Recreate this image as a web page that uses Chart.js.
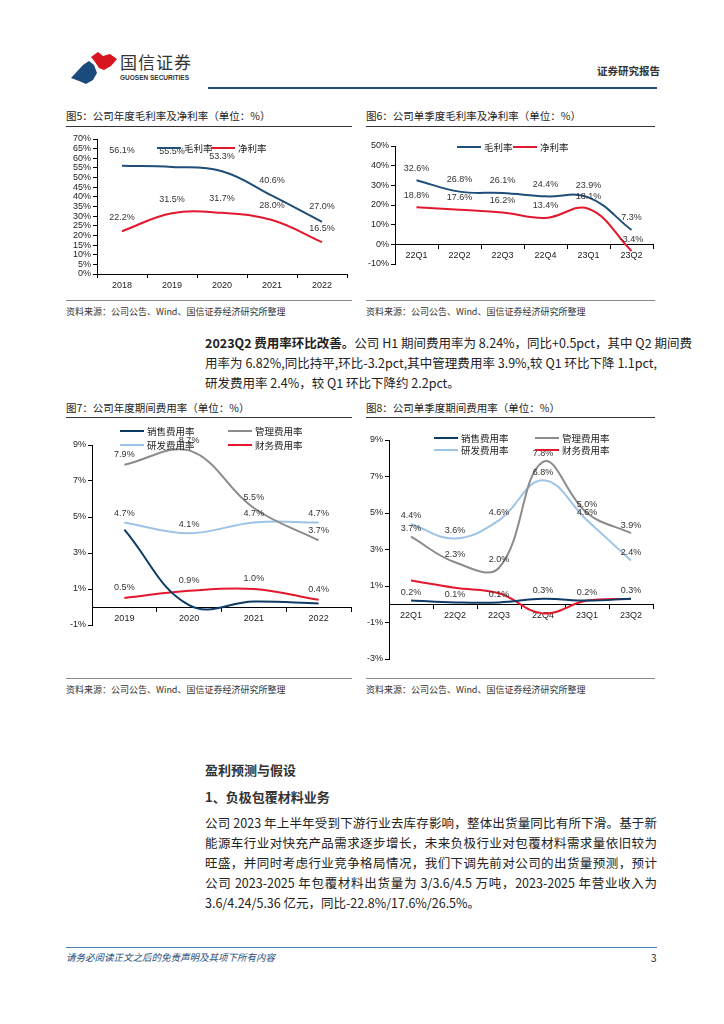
<!DOCTYPE html>
<html>
<head>
<meta charset="utf-8">
<script src="https://cdn.jsdelivr.net/npm/chart.js@4/dist/chart.umd.min.js"></script>
<style>
  body { margin: 0; background: #fff; font-family: "Noto Sans CJK SC", "Noto Sans", sans-serif; color: #222; }
  #page { position: relative; width: 724px; height: 1024px; overflow: hidden; }
  .abs { position: absolute; white-space: nowrap; }
  .rule { position: absolute; height: 1px; background: #333; }
  .title { font-size: 10.5px; color: #222; }
  .src { font-size: 9px; color: #333; }
  .leg { position: absolute; font-size: 9.5px; color: #222; white-space: nowrap; line-height: 12px; }
  .leg i { display: inline-block; width: 24px; height: 2px; vertical-align: middle; margin-right: 3px; margin-top: -2px; }
  .para { position: absolute; left: 205px; width: 452px; font-size: 12.5px; line-height: 20px; color: #222; }
  .para div { text-align: justify; text-align-last: justify; height: 20px; white-space: nowrap; }
  .para div.last { text-align-last: left; }
  canvas { position: absolute; }
</style>
</head>
<body>
<div id="page">
  <!-- header -->
  <svg class="abs" style="left:70px;top:50px" width="50" height="36" viewBox="0 0 50 36">
    <path d="M21 7 L28 2 L33 6 L40 4 L47 9 L41 16 L34 20 L29 18 L25 12 Z" fill="#d7141f"/>
    <path d="M1 28 L13 15 L19 11 L24 15 L27 23 L23 30 L16 34 L9 31 Z" fill="#1b4a7c"/>
  </svg>
  <div class="abs" style="left:120px;top:49px;font-size:17px;letter-spacing:1px;color:#333">国信证券</div>
  <div class="abs" style="left:120px;top:74px;font-size:6.5px;font-weight:bold;color:#333;font-family:'Liberation Sans',sans-serif">GUOSEN SECURITIES</div>
  <div class="abs" style="left:597px;top:63px;font-size:10.5px;font-weight:bold;color:#333">证券研究报告</div>
  <div class="abs" style="left:208px;top:87px;width:449px;height:2px;background:#1f4e79"></div>

  <!-- chart titles -->
  <div class="abs title" style="left:66px;top:108px">图5：公司年度毛利率及净利率（单位：%）</div>
  <div class="rule" style="left:66px;top:126px;width:286px"></div>
  <div class="abs title" style="left:366px;top:108px">图6：公司单季度毛利率及净利率（单位：%）</div>
  <div class="rule" style="left:366px;top:126px;width:289px"></div>

  <canvas id="c5" width="300" height="170" style="left:60px;top:130px"></canvas>
  <canvas id="c6" width="300" height="145" style="left:362px;top:130px"></canvas>

  <div class="leg" style="left:157px;top:142px"><i style="background:#1f4e79"></i>毛利率</div>
  <div class="leg" style="left:211px;top:142px"><i style="background:#e3182d"></i>净利率</div>
  <div class="leg" style="left:457px;top:141px"><i style="background:#1f4e79"></i>毛利率</div>
  <div class="leg" style="left:513px;top:141px"><i style="background:#e3182d"></i>净利率</div>

  <div class="rule" style="left:66px;top:300px;width:286px;background:#888"></div>
  <div class="rule" style="left:366px;top:300px;width:289px;background:#888"></div>
  <div class="abs src" style="left:66px;top:305px">资料来源：公司公告、Wind、国信证券经济研究所整理</div>
  <div class="abs src" style="left:366px;top:305px">资料来源：公司公告、Wind、国信证券经济研究所整理</div>

  <div class="para" style="top:333px">
    <div><b>2023Q2 费用率环比改善。</b>公司 H1 期间费用率为 8.24%，同比+0.5pct，其中 Q2 期间费</div>
    <div>用率为 6.82%,同比持平,环比-3.2pct,其中管理费用率 3.9%,较 Q1 环比下降 1.1pct,</div>
    <div class="last">研发费用率 2.4%，较 Q1 环比下降约 2.2pct。</div>
  </div>

  <div class="abs title" style="left:66px;top:400px">图7：公司年度期间费用率（单位：%）</div>
  <div class="rule" style="left:66px;top:417px;width:286px"></div>
  <div class="abs title" style="left:366px;top:400px">图8：公司单季度期间费用率（单位：%）</div>
  <div class="rule" style="left:366px;top:417px;width:289px"></div>

  <canvas id="c7" width="300" height="225" style="left:60px;top:420px"></canvas>
  <canvas id="c8" width="300" height="252" style="left:362px;top:420px"></canvas>

  <div class="leg" style="left:120px;top:425px"><i style="background:#0d3b66"></i>销售费用率</div>
  <div class="leg" style="left:228px;top:425px"><i style="background:#8c8c8c"></i>管理费用率</div>
  <div class="leg" style="left:120px;top:439px"><i style="background:#9dc3e6"></i>研发费用率</div>
  <div class="leg" style="left:228px;top:439px"><i style="background:#e3182d"></i>财务费用率</div>
  <div class="leg" style="left:434px;top:432px"><i style="background:#0d3b66"></i>销售费用率</div>
  <div class="leg" style="left:535px;top:432px"><i style="background:#8c8c8c"></i>管理费用率</div>
  <div class="leg" style="left:434px;top:444px"><i style="background:#9dc3e6"></i>研发费用率</div>
  <div class="leg" style="left:535px;top:444px"><i style="background:#e3182d"></i>财务费用率</div>

  <div class="rule" style="left:66px;top:678px;width:286px;background:#888"></div>
  <div class="rule" style="left:366px;top:678px;width:289px;background:#888"></div>
  <div class="abs src" style="left:66px;top:683px">资料来源：公司公告、Wind、国信证券经济研究所整理</div>
  <div class="abs src" style="left:366px;top:683px">资料来源：公司公告、Wind、国信证券经济研究所整理</div>

  <div class="abs" style="left:205px;top:760px;font-size:13px;font-weight:bold;color:#333">盈利预测与假设</div>
  <div class="abs" style="left:205px;top:787px;font-size:13px;font-weight:bold;color:#333">1、负极包覆材料业务</div>
  <div class="para" style="top:813px">
    <div>公司 2023 年上半年受到下游行业去库存影响，整体出货量同比有所下滑。基于新</div>
    <div>能源车行业对快充产品需求逐步增长，未来负极行业对包覆材料需求量依旧较为</div>
    <div>旺盛，并同时考虑行业竞争格局情况，我们下调先前对公司的出货量预测，预计</div>
    <div>公司 2023-2025 年包覆材料出货量为 3/3.6/4.5 万吨，2023-2025 年营业收入为</div>
    <div class="last">3.6/4.24/5.36 亿元，同比-22.8%/17.6%/26.5%。</div>
  </div>

  <div class="abs" style="left:66px;top:947px;width:591px;height:1px;background:#4a7fb5"></div>
  <div class="abs" style="left:66px;top:950px;font-size:9.5px;font-style:italic;color:#1f4e79">请务必阅读正文之后的免责声明及其项下所有内容</div>
  <div class="abs" style="left:651px;top:950px;font-size:10px;color:#222">3</div>
</div>

<script>
// 图5 annual margins
var years5 = ['2018', '2019', '2020', '2021', '2022'];
var gross5 = [56.1, 55.5, 53.3, 40.6, 27.0];
var net5 = [22.2, 31.5, 31.7, 28.0, 16.5];

// 图6 quarterly margins
var quarters6 = ['22Q1', '22Q2', '22Q3', '22Q4', '23Q1', '23Q2'];
var gross6 = [32.6, 26.8, 26.1, 24.4, 23.9, 7.3];
var net6 = [18.8, 17.6, 16.2, 13.4, 18.1, -3.4];

// 图7 annual expense ratios
var years7 = ['2019', '2020', '2021', '2022'];
var sales7 = [4.3, 0.1, 0.3, 0.2];
var admin7 = [7.9, 8.7, 5.5, 3.7];
var rd7 = [4.7, 4.1, 4.7, 4.7];
var fin7 = [0.5, 0.9, 1.0, 0.4];

// 图8 quarterly expense ratios
var quarters8 = ['22Q1', '22Q2', '22Q3', '22Q4', '23Q1', '23Q2'];
var sales8 = [0.2, 0.1, 0.1, 0.3, 0.2, 0.3];
var admin8 = [3.7, 2.3, 2.0, 7.8, 5.0, 3.9];
var rd8 = [4.4, 3.6, 4.6, 6.8, 4.6, 2.4];
var fin8 = [1.3, 0.9, 0.6, -0.5, 0.2, 0.3];

var NAVY = '#0d3b66', BLUE = '#1f4e79', RED = '#e3182d', GREY = '#8c8c8c', LIGHT = '#9dc3e6';
var numFont = { family: "'Liberation Sans Narrow', 'Liberation Sans', sans-serif", size: 9 };

// draws the value labels above each point (datasets with labelDy only)
var pointLabels = {
  id: 'pointLabels',
  afterDatasetsDraw: function (chart) {
    var ctx = chart.ctx;
    ctx.save();
    ctx.font = "9px 'Liberation Sans Narrow', 'Liberation Sans', sans-serif";
    ctx.fillStyle = '#333';
    ctx.textAlign = 'center';
    ctx.textBaseline = 'middle';
    chart.data.datasets.forEach(function (ds, i) {
      if (ds.labelDy === undefined) return;
      chart.getDatasetMeta(i).data.forEach(function (pt, j) {
        ctx.fillText(ds.data[j].toFixed(1) + '%', pt.x, pt.y - ds.labelDy);
      });
    });
    ctx.restore();
  }
};

function line(data, color, dy) {
  return {
    data: data, borderColor: color, backgroundColor: color, borderWidth: 2,
    pointRadius: 0, tension: 0.4, fill: false, labelDy: dy
  };
}

function makeChart(id, labels, datasets, o) {
  var xScale = {
    type: 'category', offset: true,
    grid: { offset: true, drawOnChartArea: false, drawTicks: true, tickLength: 4, color: '#000' },
    border: { display: true, color: '#000', width: 1 },
    ticks: { color: '#222', font: numFont, padding: 2, maxRotation: 0 }
  };
  if (o.zeroAxis) xScale.position = { y: 0 };
  else xScale.afterFit = function (s) { s.height = o.xh; };

  return new Chart(document.getElementById(id), {
    type: 'line',
    data: { labels: labels, datasets: datasets },
    options: {
      responsive: false,
      animation: false,
      layout: { padding: o.pad },
      plugins: { legend: { display: false }, tooltip: { enabled: false } },
      scales: {
        x: xScale,
        y: {
          min: o.min, max: o.max,
          afterFit: function (s) { s.width = o.yw; },
          grid: { drawOnChartArea: false, drawTicks: true, tickLength: 4, color: '#000' },
          border: { display: true, color: '#000', width: 1 },
          ticks: {
            stepSize: o.step, autoSkip: false, color: '#222', font: numFont, padding: 2,
            callback: function (v) { return v + '%'; }
          }
        }
      }
    },
    plugins: [pointLabels]
  });
}

makeChart('c5', years5, [
  line(gross5, BLUE, 15),
  line(net5, RED, 14)
], { min: 0, max: 70, step: 5, yw: 37, xh: 26, pad: { top: 9, right: 13, left: 0, bottom: 0 } });

makeChart('c6', quarters6, [
  line(gross6, BLUE, 12),
  line(net6, RED, 12)
], { min: -10, max: 50, step: 10, yw: 33, zeroAxis: true, pad: { top: 16, right: 9, left: 0, bottom: 11 } });

makeChart('c7', years7, [
  line(sales7, NAVY),
  line(admin7, GREY, 10),
  line(rd7, LIGHT, 9),
  line(fin7, RED, 10)
], { min: -1, max: 9, step: 2, yw: 32, zeroAxis: true, pad: { top: 25, right: 9, left: 0, bottom: 20 } });

makeChart('c8', quarters8, [
  line(sales8, NAVY, 8),
  line(admin8, GREY, 8),
  line(rd8, LIGHT, 8),
  line(fin8, RED)
], { min: -3, max: 9, step: 2, yw: 27, zeroAxis: true, pad: { top: 20, right: 9, left: 0, bottom: 13 } });
</script>
</body>
</html>
